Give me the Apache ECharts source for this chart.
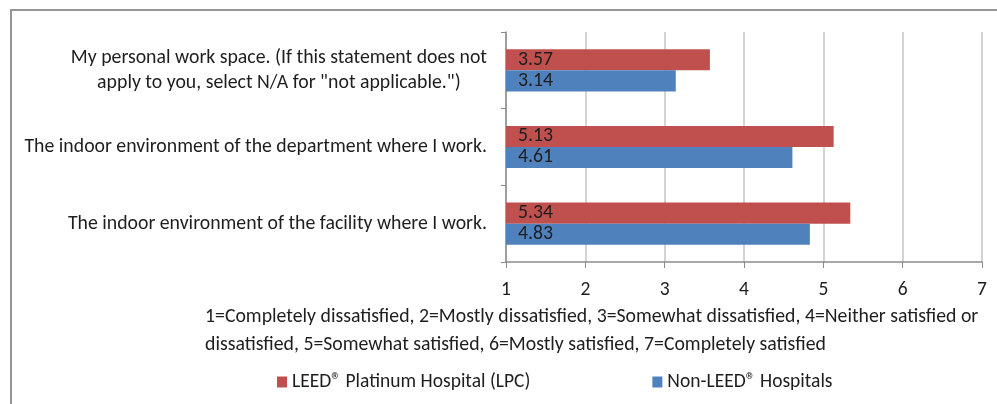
<!DOCTYPE html>
<html>
<head>
<meta charset="utf-8">
<script src="https://cdn.jsdelivr.net/npm/echarts@6/dist/echarts.min.js"></script>
<style>
  html, body { margin: 0; padding: 0; background: #fff; }
  #chart { width: 997px; height: 404px; }
</style>
</head>
<body>
<div id="chart"></div>
<script>
// categories bottom-to-top (category axis draws the first one at the bottom)
const categories = [
  "The indoor environment of the facility where I work.",
  "The indoor environment of the department where I work.",
  "My personal work space. (If this statement does not\napply to you, select N/A for \"not applicable.\")"
];
const lpcValues = [5.34, 5.13, 3.57];
const nonLeedValues = [4.83, 4.61, 3.14];
const xTicks = [1, 2, 3, 4, 5, 6, 7];
const seriesNames = ["LEED\u00ae Platinum Hospital (LPC)", "Non-LEED\u00ae Hospitals"];
const scaleNote = "1=Completely dissatisfied, 2=Mostly dissatisfied, 3=Somewhat dissatisfied, 4=Neither satisfied or\ndissatisfied, 5=Somewhat satisfied, 6=Mostly satisfied, 7=Completely satisfied";

const font = "Carlito, 'Liberation Sans', sans-serif";
const txt = "#1e1e1e";
const chart = echarts.init(document.getElementById("chart"));

chart.setOption({
  animation: false,
  textStyle: { fontFamily: font },
  title: {
    text: scaleNote,
    left: 205,
    top: 303,
    padding: 0,
    textStyle: { fontFamily: font, fontSize: 19.8, fontWeight: "normal", color: txt, lineHeight: 28 }
  },
  graphic: [{
    type: "rect",
    shape: { x: 11, y: 10, width: 1100, height: 500 },
    style: { fill: "none", stroke: "#959595", lineWidth: 2 },
    silent: true
  }],
  legend: {
    data: seriesNames,
    left: 272,
    top: 367,
    icon: "rect",
    itemWidth: 10,
    itemHeight: 11,
    itemGap: 122,
    textStyle: { fontFamily: font, fontSize: 19.5, color: txt }
  },
  grid: { left: 506, right: 15, top: 32, bottom: 142, containLabel: false },
  xAxis: {
    type: "value",
    min: xTicks[0],
    max: xTicks[xTicks.length - 1],
    interval: 1,
    axisLine: { show: true, lineStyle: { color: "#8c8c8c", width: 1.5 } },
    axisTick: { show: true, length: 6, lineStyle: { color: "#8c8c8c" } },
    axisLabel: { margin: 18, fontSize: 19.5, color: txt, fontFamily: font },
    splitLine: { show: true, lineStyle: { color: "#c4c4c4", width: 1.5 } }
  },
  yAxis: {
    type: "category",
    data: categories,
    axisLine: { show: true, lineStyle: { color: "#8c8c8c", width: 1.5 } },
    axisTick: { show: true, length: 5, lineStyle: { color: "#8c8c8c" } },
    axisLabel: {
      margin: 19,
      fontSize: 19.8,
      color: txt,
      fontFamily: font,
      lineHeight: 25,
      formatter: function (v) {
        return v.split("\n").map(function (l) { return "{c|" + l + "}"; }).join("\n");
      },
      rich: { c: { align: "center", fontSize: 19.8, lineHeight: 25, fontFamily: font, color: txt } }
    }
  },
  series: [
    {
      name: seriesNames[0],
      type: "bar",
      data: lpcValues,
      barGap: "0%",
      barCategoryGap: "45%",
      clip: true,
      itemStyle: { color: "#c0504d" },
      label: { show: true, position: "insideLeft", distance: 12, fontSize: 19.8, color: txt, fontFamily: font }
    },
    {
      name: seriesNames[1],
      type: "bar",
      data: nonLeedValues,
      barGap: "0%",
      barCategoryGap: "45%",
      clip: true,
      itemStyle: { color: "#4f81bd" },
      label: { show: true, position: "insideLeft", distance: 12, fontSize: 19.8, color: txt, fontFamily: font }
    }
  ]
});
</script>
</body>
</html>
